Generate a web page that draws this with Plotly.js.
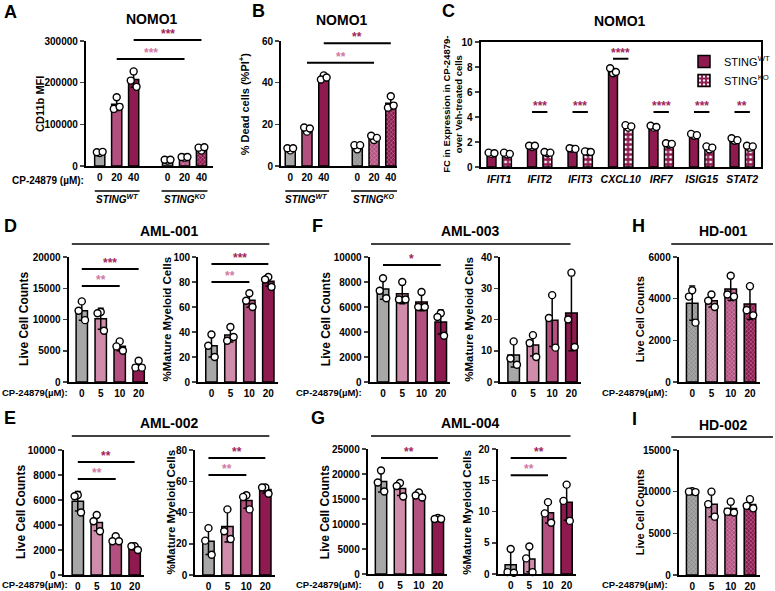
<!DOCTYPE html>
<html>
<head>
<meta charset="utf-8">
<script src="https://cdn.plot.ly/plotly-3.0.1.min.js"></script>
<style>body{margin:0;background:#fff}#fig{width:775px;height:591px}</style>
</head>
<body>
<div id="fig"></div>
<script>
// tick labels / categories
var doseLbl = ['0', '5', '10', '20'];
var nomoLbl = ['0', '20', '40'];
var genes = ['IFIT1', 'IFIT2', 'IFIT3', 'CXCL10', 'IRF7', 'ISIG15', 'STAT2'];

// replicates (3 per bar)
var aWT = [[31000, 33000, 34000], [165000, 137000, 142000], [227000, 205000, 190000]];
var aKO = [[13000, 15000, 15000], [20000, 21500, 21500], [37000, 44000, 45000]];
var bWT = [[7.5, 8.5, 8.5], [16.5, 18.5, 18], [43.5, 41.5, 42.5]];
var bKO = [[8, 10, 10], [12.5, 14.5, 13.5], [33.5, 28, 29]];
var cWT = [[1.05, 1.15, 1.1], [1.6, 1.7, 1.7], [1.45, 1.5, 1.45], [7.5, 7.9, 7.6], [3.15, 3.3, 3.2], [2.5, 2.65, 2.55], [2.1, 2.3, 2.15]];
var cKO = [[1.0, 1.15, 1.05], [1.1, 1.2, 1.15], [1.2, 1.25, 1.2], [3.15, 3.35, 3.25], [1.8, 1.9, 1.85], [1.4, 1.65, 1.55], [1.55, 1.7, 1.65]];
var aml001Live = [[12900, 11400, 9900], [11200, 11000, 8200], [6500, 5700, 5000], [3400, 2300, 2300]];
var aml001Mye = [[38, 29, 20], [44, 33, 36], [71, 65, 60], [84, 82, 76]];
var aml002Live = [[6400, 6300, 5000], [4800, 4300, 3500], [3100, 2700, 2700], [2300, 2300, 2000]];
var aml002Mye = [[30, 22, 13], [42, 28, 23], [51, 50, 42], [56, 56, 52]];
var aml003Live = [[8300, 7300, 6700], [8000, 6600, 6600], [7200, 6000, 6000], [5500, 5200, 3700]];
var aml003Mye = [[13, 7.5, 5.5], [15, 12.5, 8], [27.8, 20.5, 11], [35, 20, 11.2]];
var aml004Live = [[20700, 18300, 16500], [18200, 17600, 15500], [16300, 15700, 15300], [11200, 11000, 11000]];
var aml004Mye = [[4.0, 0.3, 0.2], [4.4, 2.5, 0.3], [11.5, 9.7, 8.2], [14.3, 11.7, 8.5]];
var hd001Live = [[4400, 4100, 2850], [4200, 3900, 3600], [5100, 4200, 4100], [4600, 3450, 3200]];
var hd002Live = [[10050, 10000, 9950], [10000, 8500, 7000], [8800, 7600, 7500], [9100, 8300, 8000]];

var W = 775, H = 591;
var FONT = 'Liberation Sans, Arial, sans-serif';
var greyC = '#a7a7a7', lightC = '#d08cab', midC = '#b3507f', darkC = '#8e1a50';
var pinkS = '#d07aa6', darkS = '#a11f5d';
var doseCol = [greyC, lightC, midC, darkC];
var jit = [0, -0.17, 0.17];

function px(x) { return x / W; }
function py(y) { return 1 - y / H; }
function mean(a) { return a.reduce(function (s, v) { return s + v; }, 0) / a.length; }
function sd(a) {
  var m = mean(a);
  return Math.sqrt(a.reduce(function (s, v) { return s + (v - m) * (v - m); }, 0) / (a.length - 1));
}

var traces = [], shapes = [], annotations = [];
var layout = {
  width: W, height: H,
  margin: {l: 0, r: 0, t: 0, b: 0},
  paper_bgcolor: '#fff', plot_bgcolor: 'rgba(0,0,0,0)',
  font: {family: FONT, color: '#000', size: 10},
  showlegend: true,
  legend: {x: px(686), y: py(47), xanchor: 'left', yanchor: 'top', font: {size: 11, family: FONT},
    bgcolor: 'rgba(0,0,0,0)', tracegroupgap: 2},
  shapes: shapes, annotations: annotations
};

function hatch(flags) {
  return {
    shape: flags.map(function (f) { return f ? 'x' : ''; }),
    size: 3, solidity: 0.3, fillmode: 'overlay',
    fgcolor: 'rgba(255,255,255,0.5)'
  };
}

function axes(p) {
  var id = p.k === 1 ? '' : String(p.k);
  layout['xaxis' + id] = {
    domain: [px(p.c0 + p.r[0] * p.s), px(p.c0 + p.r[1] * p.s)], range: p.r, anchor: 'y' + id,
    showline: true, linewidth: 2, linecolor: '#000', mirror: !!p.box,
    showgrid: false, zeroline: false, ticks: 'outside', ticklen: 1, tickcolor: 'rgba(0,0,0,0)',
    tickvals: p.tv, ticktext: p.tt, tickfont: {size: p.tfs || 10, weight: 'bold'}
  };
  layout['yaxis' + id] = {
    domain: [py(p.zero), py(p.top)], range: [0, p.ymax], anchor: 'x' + id,
    showline: true, linewidth: 2, linecolor: '#000', mirror: !!p.box,
    showgrid: false, zeroline: false, ticks: 'outside', ticklen: 4, tickwidth: 1.5,
    dtick: p.dtick, tickformat: 'd', tickfont: {size: 10, weight: 'bold'}
  };
  return id;
}

function dots(id, xs, groups, scale) {
  var x = [], y = [];
  groups.forEach(function (g, i) {
    g.forEach(function (v, j) { x.push(xs[i] + jit[j] * scale); y.push(v); });
  });
  traces.push({type: 'scatter', mode: 'markers', x: x, y: y, xaxis: 'x' + id, yaxis: 'y' + id,
    cliponaxis: false, showlegend: false, hoverinfo: 'skip',
    marker: {size: 7, color: '#fff', line: {color: '#000', width: 1.4}}});
}

function sigs(id, list, ymax) {
  list.forEach(function (s) {
    shapes.push({type: 'line', xref: 'x' + id, yref: 'y' + id + ' domain',
      x0: s[0], x1: s[1], y0: s[2] / ymax, y1: s[2] / ymax, line: {color: '#000', width: 2}});
    annotations.push({xref: 'x' + id, yref: 'y' + id + ' domain', x: (s[0] + s[1]) / 2, y: s[2] / ymax,
      text: s[3], showarrow: false, yanchor: 'bottom', yshift: -3,
      font: {size: 12, weight: 'bold', color: s[4]}});
  });
}

function barPanel(p) {
  var id = axes(p);
  traces.push({type: 'bar', x: p.xs, y: p.groups.map(mean), width: 0.6,
    xaxis: 'x' + id, yaxis: 'y' + id, showlegend: false, hoverinfo: 'skip',
    marker: {color: p.colors, line: {color: '#000', width: 1.5}, pattern: hatch(p.hatch)},
    error_y: {type: 'data', array: p.groups.map(sd), color: '#000', thickness: 1.5, width: 3}});
  dots(id, p.xs, p.groups, 1);
  sigs(id, p.sig || [], p.ymax);
}

var x4 = [0, 1, 2, 3];
var noH = [0, 0, 0, 0], allH = [1, 1, 1, 1];

// A
barPanel({k: 1, c0: 100, s: 17, r: [-0.82, 6.65], top: 41, zero: 166, ymax: 300000, dtick: 100000,
  xs: [0, 1, 2, 4, 5, 6], tv: [0, 1, 2, 4, 5, 6], tt: nomoLbl.concat(nomoLbl), groups: aWT.concat(aKO),
  colors: [greyC, midC, darkC, greyC, midC, darkC], hatch: [0, 0, 0, 1, 1, 1],
  sig: [[1, 5, 256800, '***', pinkS], [2, 6, 302400, '***', darkS]]});
// B
barPanel({k: 2, c0: 291, s: 16.8, r: [-0.55, 6.4], top: 41, zero: 166, ymax: 60, dtick: 20,
  xs: [0, 1, 2, 4, 5, 6], tv: [0, 1, 2, 4, 5, 6], tt: nomoLbl.concat(nomoLbl), groups: bWT.concat(bKO),
  colors: [greyC, midC, darkC, greyC, midC, darkC], hatch: [0, 0, 0, 1, 1, 1],
  sig: [[1, 5, 49.6, '**', pinkS], [2, 6, 58.9, '**', darkS]]});

// C : grouped WT / KO
(function () {
  var p = {k: 3, c0: 500.5, s: 40.6, r: [-0.46, 6.47], top: 42, zero: 167, ymax: 10, dtick: 2, box: true,
    tv: genes.map(function (g, i) { return i; }), tt: genes.map(function (g) { return '<i>' + g + '</i>'; }), tfs: 10.5};
  var id = axes(p);
  var xw = genes.map(function (g, i) { return i - 0.19; });
  var xk = genes.map(function (g, i) { return i + 0.19; });
  traces.push({type: 'bar', name: 'STING<sup>WT</sup>', x: xw, y: cWT.map(mean), width: 0.22,
    xaxis: 'x' + id, yaxis: 'y' + id, hoverinfo: 'skip',
    marker: {color: darkC, line: {color: '#000', width: 1.5}},
    error_y: {type: 'data', array: cWT.map(sd), color: '#000', thickness: 1.5, width: 2}});
  traces.push({type: 'bar', name: 'STING<sup>KO</sup>', x: xk, y: cKO.map(mean), width: 0.22,
    xaxis: 'x' + id, yaxis: 'y' + id, hoverinfo: 'skip',
    marker: {color: darkC, line: {color: '#000', width: 1.5},
      pattern: {shape: '+', size: 5, solidity: 0.72, bgcolor: '#fff', fillmode: 'replace'}},
    error_y: {type: 'data', array: cKO.map(sd), color: '#000', thickness: 1.5, width: 2}});
  dots(id, xw, cWT, 0.42);
  dots(id, xk, cKO, 0.42);
  var stars = ['', '***', '***', '****', '****', '***', '**'];
  var sl = [];
  stars.forEach(function (s, i) {
    if (s) sl.push([xw[i], xk[i], i === 3 ? 8.67 : 4.4, s, darkS]);
  });
  sigs(id, sl, p.ymax);
})();

// D-I
barPanel({k: 4, c0: 82, s: 19, r: [-0.7, 3.5], top: 257, zero: 382, ymax: 20000, dtick: 5000,
  xs: x4, tv: x4, tt: doseLbl, groups: aml001Live, colors: doseCol, hatch: noH,
  sig: [[0, 2, 15360, '**', pinkS], [0, 3, 18080, '***', darkS]]});
barPanel({k: 5, c0: 212, s: 19, r: [-0.7, 3.5], top: 257, zero: 382, ymax: 100, dtick: 20,
  xs: x4, tv: x4, tt: doseLbl, groups: aml001Mye, colors: doseCol, hatch: noH,
  sig: [[0, 2, 80, '**', pinkS], [0, 3, 94.4, '***', darkS]]});
barPanel({k: 6, c0: 78, s: 19, r: [-0.75, 3.5], top: 450, zero: 575, ymax: 10000, dtick: 2000,
  xs: x4, tv: x4, tt: doseLbl, groups: aml002Live, colors: doseCol, hatch: noH,
  sig: [[0, 2, 7680, '**', pinkS], [0, 3, 9040, '**', darkS]]});
barPanel({k: 7, c0: 209, s: 19, r: [-0.7, 3.5], top: 450, zero: 575, ymax: 80, dtick: 20,
  xs: x4, tv: x4, tt: doseLbl, groups: aml002Mye, colors: doseCol, hatch: noH,
  sig: [[0, 2, 64, '**', pinkS], [0, 3, 74.9, '**', darkS]]});
barPanel({k: 8, c0: 384, s: 19.3, r: [-0.7, 3.5], top: 257, zero: 382, ymax: 10000, dtick: 2000,
  xs: x4, tv: x4, tt: doseLbl, groups: aml003Live, colors: doseCol, hatch: noH,
  sig: [[0, 3, 9360, '*', darkS]]});
barPanel({k: 9, c0: 515, s: 19.3, r: [-0.7, 3.5], top: 257, zero: 382, ymax: 40, dtick: 10,
  xs: x4, tv: x4, tt: doseLbl, groups: aml003Mye, colors: doseCol, hatch: noH});
barPanel({k: 10, c0: 382, s: 19, r: [-0.7, 3.5], top: 449, zero: 574, ymax: 25000, dtick: 5000,
  xs: x4, tv: x4, tt: doseLbl, groups: aml004Live, colors: doseCol, hatch: noH,
  sig: [[0, 3, 23200, '**', darkS]]});
barPanel({k: 11, c0: 512, s: 18.7, r: [-0.7, 3.5], top: 449, zero: 574, ymax: 20, dtick: 5,
  xs: x4, tv: x4, tt: doseLbl, groups: aml004Mye, colors: doseCol, hatch: noH,
  sig: [[0, 2, 15.8, '**', pinkS], [0, 3, 18.56, '**', darkS]]});
barPanel({k: 12, c0: 694, s: 19.3, r: [-0.7, 3.5], top: 257, zero: 382, ymax: 6000, dtick: 2000,
  xs: x4, tv: x4, tt: doseLbl, groups: hd001Live, colors: doseCol, hatch: allH});
barPanel({k: 13, c0: 694, s: 19.3, r: [-0.7, 3.5], top: 450, zero: 575, ymax: 15000, dtick: 5000,
  xs: x4, tv: x4, tt: doseLbl, groups: hd002Live, colors: doseCol, hatch: allH});

// text helpers (pixel positions)
function txt(x, y, text, size, opt) {
  var a = {xref: 'paper', yref: 'paper', x: px(x), y: py(y), text: text, showarrow: false,
    font: {size: size, weight: 'bold', family: FONT, color: '#000'}, xanchor: 'center', yanchor: 'middle'};
  for (var k in opt) a[k] = opt[k];
  annotations.push(a);
}
function hline(x0, x1, y) {
  shapes.push({type: 'line', xref: 'paper', yref: 'paper', x0: px(x0), x1: px(x1), y0: py(y), y1: py(y),
    line: {color: '#000', width: 1.5}});
}

// panel letters
[['A', 2, 12], ['B', 251, 11], ['C', 441, 11], ['D', 2, 226], ['E', 2, 418],
 ['F', 311, 226], ['G', 310, 418], ['H', 632, 226], ['I', 632, 419]].forEach(function (l) {
  txt(l[1], l[2], l[0], 18, {xanchor: 'left'});
});

// panel titles
txt(152, 19, 'NOMO1', 14); txt(343, 20, 'NOMO1', 14); txt(622, 21, 'NOMO1', 14);
txt(170, 231, 'AML-001', 14); txt(170, 423, 'AML-002', 14);
txt(472, 231, 'AML-003', 14); txt(472, 423, 'AML-004', 14);
txt(725, 231, 'HD-001', 14); txt(725, 425, 'HD-002', 14);
hline(72, 270, 244); hline(72, 270, 436);
hline(372, 572, 244); hline(372, 572, 436);
hline(673, 775, 244); hline(673, 775, 437);

// y titles
txt(40, 104, 'CD11b MFI', 11, {textangle: -90});
txt(245, 104, '% Dead cells (%PI<sup>+</sup>)', 11, {textangle: -90});
txt(453, 104, 'FC in Expression in CP-24879-<br>over Veh-treated cells', 9.5, {textangle: -90});
txt(24, 319, 'Live Cell Counts', 12, {textangle: -90});
txt(167, 319, '%Mature Myeloid Cells', 11.5, {textangle: -90});
txt(21, 512, 'Live Cell Counts', 12, {textangle: -90});
txt(171, 512, '%Mature Myeloid Cells', 11.5, {textangle: -90});
txt(327, 319, 'Live Cell Counts', 12, {textangle: -90});
txt(470, 319, '%Mature Myeloid Cells', 11.5, {textangle: -90});
txt(326, 512, 'Live Cell Counts', 12, {textangle: -90});
txt(468, 512, '%Mature Myeloid Cells', 11.5, {textangle: -90});
txt(642, 319, 'Live Cell Counts', 11, {textangle: -90});
txt(642, 512, 'Live Cell Counts', 11, {textangle: -90});

// dose row labels
txt(86, 180, 'CP-24879 (µM):', 10, {xanchor: 'right'});
[[0, 392], [0, 584]].forEach(function (c) {
  txt(c[0], c[1], 'CP-24879(µM):', 9.5, {xanchor: 'left'});
});
[[365, 392], [365, 584], [672, 392], [672, 584]].forEach(function (c) {
  txt(c[0], c[1], 'CP-24879(µM):', 9.5, {xanchor: 'right'});
});

// genotype group labels under A and B
[[95, 140, 117, 'WT'], [162, 208, 185, 'KO'], [286, 330, 307, 'WT'], [352, 398, 375, 'KO']].forEach(function (g) {
  hline(g[0], g[1], 191);
  txt(g[2], 199, '<i>STING<sup>' + g[3] + '</sup></i>', 10);
});

Plotly.newPlot('fig', traces, layout, {staticPlot: true});
</script>
</body>
</html>
